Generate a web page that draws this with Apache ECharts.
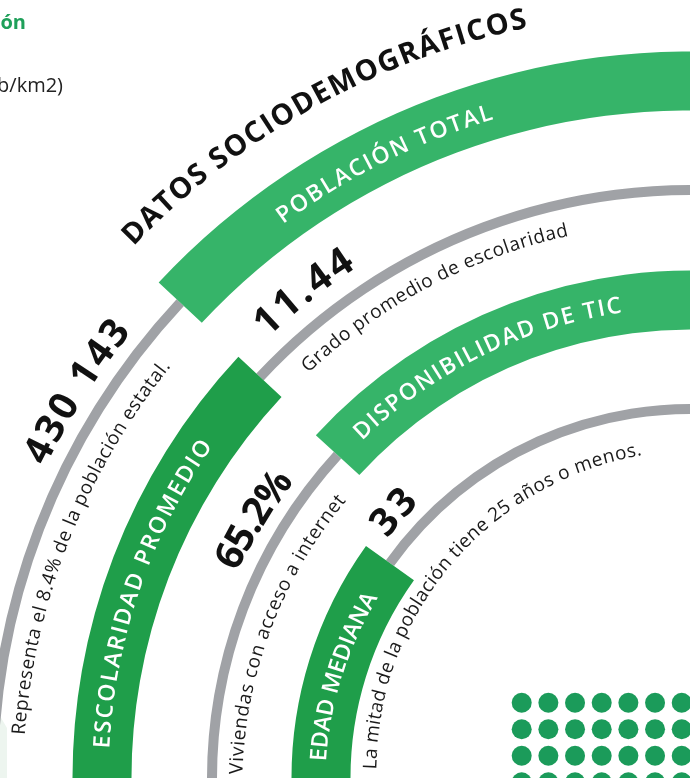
<!DOCTYPE html>
<html><head><meta charset="utf-8">
<script src="https://cdn.jsdelivr.net/npm/echarts@6/dist/echarts.min.js"></script>
<style>html,body{margin:0;padding:0;background:#fff}#chart{width:690px;height:778px}</style>
</head><body><div id="chart"></div>
<script>
// ---------------- data ----------------
const titleText = 'DATOS SOCIODEMOGRÁFICOS';
const categories = ['POBLACIÓN TOTAL', 'ESCOLARIDAD PROMEDIO', 'DISPONIBILIDAD DE TIC', 'EDAD MEDIANA'];
const valueLabels = ['430 143', '11.44', '65.2%', '33'];
const notes = [
  'Representa el 8.4% de la población estatal.',
  'Grado promedio de escolaridad',
  'Viviendas con acceso a internet',
  'La mitad de la población tiene 25 años o menos.'
];
const sideTitle = 'Población';
const sideUnit = '(hab/km2)';
const dotCols = [0, 1, 2, 3, 4, 5, 6];
const dotRows = [0, 1, 2, 3];

// ---------------- layout (px / degrees, 0° = east, counter-clockwise) ----------------
const CENTER = [690, 778];
const ringR = [697, 588, 478, 369];
const BAND_W = 59, LINE_W = 10;
const splitA = [137, 137, 137.5, 144.4];
const bandOnTop = [true, false, true, false];
const A_TOP = 84, A_BOTTOM = 181;
const LIGHT = '#36b469', DARK = '#1f9e4a', GRAY = '#a0a2a6', DOT = '#1b9b5a';
const bandColors = [LIGHT, DARK, LIGHT, DARK];

const FONT = '"Open Sans", "Noto Sans", sans-serif';
const titleArc = { r: [778, 776], a: [136.3, 102.2], font: '700 29px ' + FONT, color: '#111' };
const catArc = [
  { r: [694, 694], a: [126.3, 106.6] },
  { r: [588, 588], a: [177.1, 145.2] },
  { r: [477, 477], a: [134.2, 98.3] },
  { r: [371, 367], a: [177.4, 150.0] }
];
const valArc = [
  { r: [727, 726], a: [154.2, 141.4] },
  { r: [621, 621], a: [133.8, 123.2] },
  { r: [509, 505], a: [155.5, 143.2] },
  { r: [397, 397], a: [141.6, 134.6] }
];
const noteArc = [
  { r: [672, 668], a: [176.3, 141.6] },
  { r: [562, 561], a: [133.3, 102.6] },
  { r: [453, 447], a: [179.5, 141.1] },
  { r: [319, 332], a: [178.4, 98.4] }
];
const CAT_FONT = '600 23px ' + FONT, VAL_FONT = '700 39px ' + FONT, NOTE_FONT = '400 19px ' + FONT;

// dot grid placement (px)
const DOT_X0 = 521.7, DOT_Y0 = 702.7, DOT_DX = 26.67, DOT_DY = 26.5, DOT_SIZE = 20;

// ---------------- build text items ----------------
const textItems = [];
textItems.push(Object.assign({ str: titleText }, titleArc));
categories.forEach((c, i) => textItems.push(Object.assign({ str: c, font: CAT_FONT, color: '#ffffff' }, catArc[i])));
valueLabels.forEach((v, i) => textItems.push(Object.assign({ str: v, font: VAL_FONT, color: '#111' }, valArc[i])));
notes.forEach((n, i) => textItems.push(Object.assign({ str: n, font: NOTE_FONT, color: '#1a1a1a' }, noteArc[i])));

const mctx = document.createElement('canvas').getContext('2d');
function charWidths(str, font) {
  mctx.font = font;
  return Array.from(str).map(ch => mctx.measureText(ch).width);
}

function renderArcText(params, api) {
  const t = textItems[params.dataIndex];
  const cx = params.coordSys.cx, cy = params.coordSys.cy;
  const chars = Array.from(t.str);
  const w = charWidths(t.str, t.font);
  const W = w.reduce((s, x) => s + x, 0);
  const rMean = (t.r[0] + t.r[1]) / 2;
  const L = rMean * (t.a[0] - t.a[1]) * Math.PI / 180;
  const gap = chars.length > 1 ? (L - W) / (chars.length - 1) : 0;
  let pos = 0;
  const children = [];
  chars.forEach((ch, i) => {
    const c = pos + w[i] / 2;
    const f = L > 0 ? c / L : 0.5;
    const a = t.a[0] - (t.a[0] - t.a[1]) * f;
    const r = t.r[0] + (t.r[1] - t.r[0]) * f;
    const p = api.coord([r, a]);
    const phi = Math.atan2(cy - p[1], p[0] - cx);
    children.push({
      type: 'text', x: p[0], y: p[1], rotation: phi - Math.PI / 2,
      style: { text: ch, font: t.font, fill: t.color, align: 'center', verticalAlign: 'middle' }
    });
    pos += w[i] + gap;
  });
  return { type: 'group', children };
}

function sector(api, cs, rv, width, aHi, aLo, color) {
  const cx = cs.cx, cy = cs.cy;
  const pi = api.coord([rv - width / 2, aHi]);
  const po = api.coord([rv + width / 2, aHi]);
  const pl = api.coord([rv, aLo]);
  const r0 = Math.hypot(pi[0] - cx, pi[1] - cy);
  const r = Math.hypot(po[0] - cx, po[1] - cy);
  const s = Math.atan2(po[1] - cy, po[0] - cx);
  let e = Math.atan2(pl[1] - cy, pl[0] - cx);
  while (e < s) e += Math.PI * 2;
  return { type: 'sector', shape: { cx, cy, r0, r, startAngle: s, endAngle: e, clockwise: true }, style: { fill: color } };
}

function renderRing(params, api) {
  const i = params.dataIndex;
  const rv = api.value(0), split = api.value(1);
  const cs = params.coordSys;
  const band = bandOnTop[i] ? sector(api, cs, rv, BAND_W, split, A_TOP, bandColors[i])
                            : sector(api, cs, rv, BAND_W, A_BOTTOM, split, bandColors[i]);
  const line = bandOnTop[i] ? sector(api, cs, rv, LINE_W, A_BOTTOM, split, GRAY)
                            : sector(api, cs, rv, LINE_W, split, A_TOP, GRAY);
  return { type: 'group', children: [line, band] };
}

const dotData = [];
dotRows.forEach(r => dotCols.forEach(c => dotData.push([c, r])));

// grid kept inside the canvas; axis ranges chosen so one unit = one dot pitch
const W_PX = 690, H_PX = 778;
const gLeft = DOT_X0 - DOT_DX / 2, gTop = DOT_Y0 - DOT_DY / 2;
const gW = W_PX - gLeft, gH = H_PX - gTop;

const chart = echarts.init(document.getElementById('chart'), null, { renderer: 'canvas' });
chart.setOption({
  animation: false,
  backgroundColor: '#ffffff',
  polar: { center: CENTER, radius: [0, 1000] },
  angleAxis: { type: 'value', min: 0, max: 360, startAngle: 0, clockwise: false, show: false },
  radiusAxis: { type: 'value', min: 0, max: 1000, show: false },
  grid: { left: gLeft, top: gTop, width: gW, height: gH, containLabel: false, outerBoundsMode: 'none' },
  xAxis: { type: 'value', min: -0.5, max: -0.5 + gW / DOT_DX, show: false },
  yAxis: { type: 'value', min: -0.5, max: -0.5 + gH / DOT_DY, inverse: true, show: false },
  graphic: [
    { type: 'polygon', shape: { points: [[0, 716], [7, 728], [7, 778], [0, 778]] }, style: { fill: '#edf5ef' }, z: 0 },
    { type: 'text', x: 26, y: 23, style: { text: sideTitle, font: '700 20px ' + FONT, fill: '#1fa05a', align: 'right', verticalAlign: 'middle' } },
    { type: 'text', x: 63, y: 86, style: { text: sideUnit, font: '400 20px ' + FONT, fill: '#222', align: 'right', verticalAlign: 'middle' } }
  ],
  series: [
    {
      type: 'custom', coordinateSystem: 'polar', renderItem: renderRing, z: 2,
      data: categories.map((c, i) => [ringR[i], splitA[i]])
    },
    {
      type: 'custom', coordinateSystem: 'polar', renderItem: renderArcText, z: 5,
      data: textItems.map(t => [t.r[0], t.a[0]])
    },
    {
      type: 'scatter', xAxisIndex: 0, yAxisIndex: 0, symbol: 'circle', symbolSize: DOT_SIZE, clip: false,
      itemStyle: { color: DOT, opacity: 1 }, data: dotData, silent: true
    }
  ]
});
</script></body></html>
